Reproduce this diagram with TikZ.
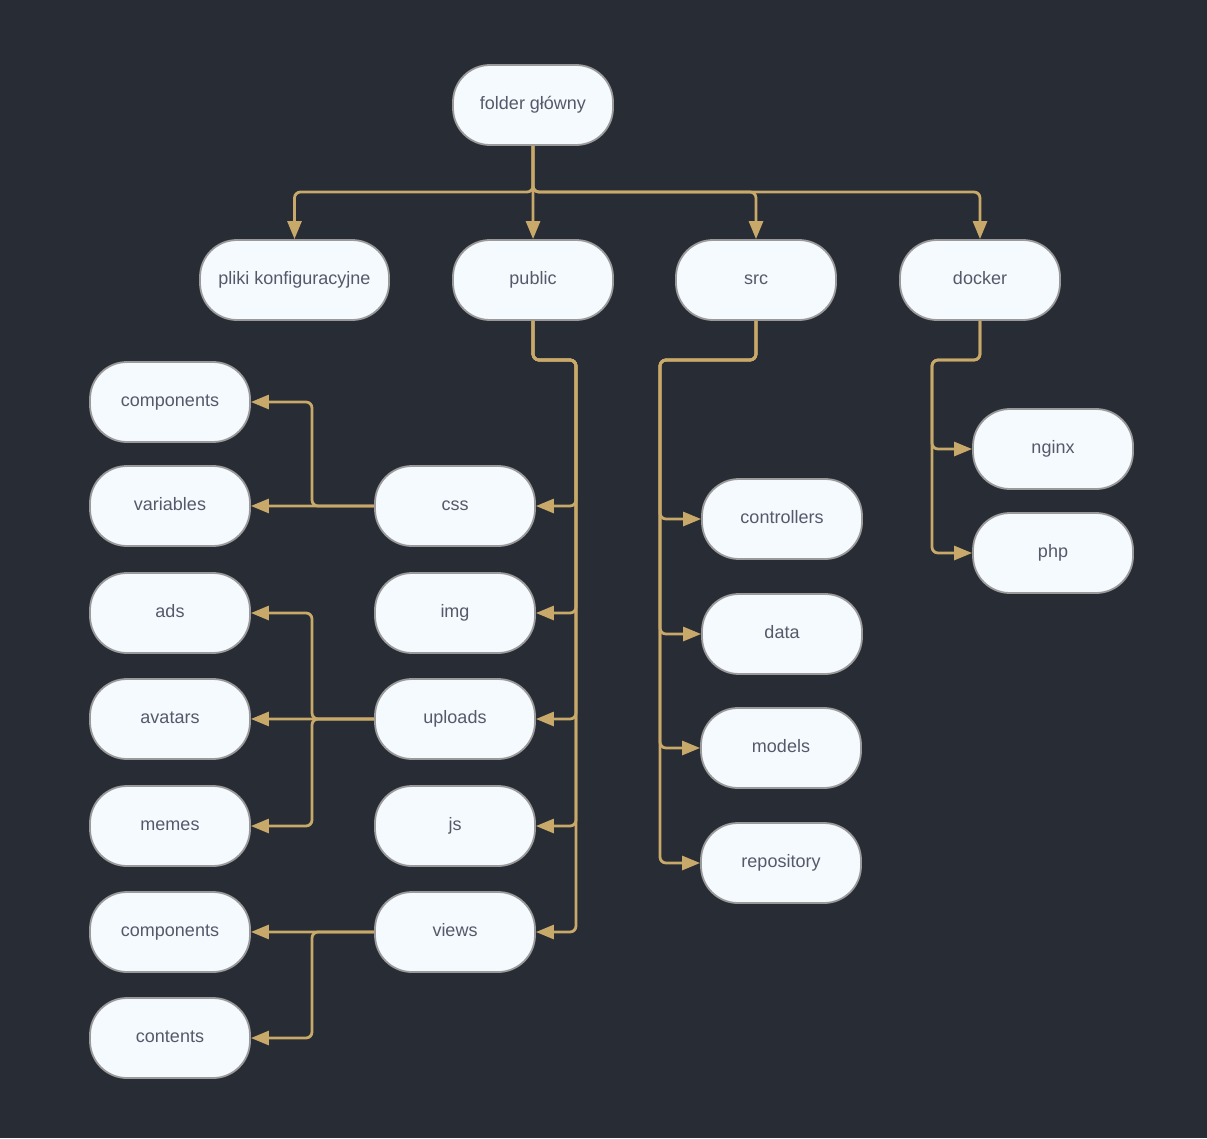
\documentclass[tikz,border=0pt]{standalone}
\usepackage{fontspec}
\setmainfont{Liberation Sans}
\usetikzlibrary{arrows.meta}
\definecolor{bg}{HTML}{282C35}
\definecolor{boxfill}{HTML}{F5FAFF}
\definecolor{boxline}{HTML}{9A9A9A}
\definecolor{txt}{HTML}{555A6A}
\definecolor{gold}{HTML}{C8A96A}
\begin{document}
\begin{tikzpicture}[x=1pt,y=-1pt,
  box/.style={draw=boxline, line width=1.8pt, fill=boxfill, rounded corners=37pt,
    minimum width=160pt, minimum height=80pt, inner sep=0pt,
    text height=13pt, text depth=4pt,
    font=\fontsize{18}{20}\selectfont, text=txt},
  conn/.style={draw=gold, line width=2.8pt, rounded corners=6pt,
    -{Triangle[length=18pt,width=14pt]}},
  straight/.style={draw=gold, line width=2.8pt,
    -{Triangle[length=18pt,width=14pt]}}]
\fill[bg] (0,0) rectangle (1207,1138);
\useasboundingbox (0,0) rectangle (1207,1138);
% nodes
\node[box] (root) at (533,105) {folder główny};
\node[box, minimum width=189pt] (pliki) at (294.5,280) {pliki konfiguracyjne};
\node[box] (public) at (533,280) {public};
\node[box] (src) at (756,280) {src};
\node[box] (docker) at (980,280) {docker};
\node[box] (compA) at (170,402) {components};
\node[box] (var) at (170,506) {variables};
\node[box] (ads) at (170,613) {ads};
\node[box] (avatars) at (170,719) {avatars};
\node[box] (memes) at (170,826) {memes};
\node[box] (compB) at (170,932) {components};
\node[box] (contents) at (170,1038) {contents};
\node[box] (css) at (455,506) {css};
\node[box] (img) at (455,613) {img};
\node[box] (uploads) at (455,719) {uploads};
\node[box] (js) at (455,826) {js};
\node[box] (views) at (455,932) {views};
\node[box] (controllers) at (782,519) {controllers};
\node[box] (data) at (782,634) {data};
\node[box] (models) at (781,748) {models};
\node[box] (repository) at (781,863) {repository};
\node[box] (nginx) at (1053,449) {nginx};
\node[box] (php) at (1053,553) {php};
% junctions
\coordinate (rj) at (533,192);
\coordinate (pj) at (576,360);
\coordinate (sj) at (660,360);
\coordinate (dj) at (932,360);
\coordinate (cj) at (312,506);
\coordinate (uj) at (312,719);
\coordinate (vj) at (312,932);
% root
\draw[conn] (root.south) -- (rj) -| (pliki.north);
\draw[straight] ([xshift=-0.05pt]root.south) -- ([xshift=0.05pt]public.north);
\draw[conn] (root.south) -- (rj) -| (src.north);
\draw[conn] (root.south) -- (rj) -| (docker.north);
% public
\foreach \c in {css,img,uploads,js,views}
  \draw[conn] (public.south) |- (pj) |- (\c.east);
% src
\foreach \c in {controllers,data,models,repository}
  \draw[conn] (src.south) |- (sj) |- (\c.west);
% docker
\foreach \c in {nginx,php}
  \draw[conn] (docker.south) |- (dj) |- (\c.west);
% css
\draw[conn] (css.west) -- (cj) |- (compA.east);
\draw[straight] ([yshift=-0.05pt]css.west) -- ([yshift=0.05pt]var.east);
% uploads
\draw[conn] (uploads.west) -- (uj) |- (ads.east);
\draw[straight] ([yshift=-0.05pt]uploads.west) -- ([yshift=0.05pt]avatars.east);
\draw[conn] (uploads.west) -- (uj) |- (memes.east);
% views
\draw[straight] ([yshift=-0.05pt]views.west) -- ([yshift=0.05pt]compB.east);
\draw[conn] (views.west) -- (vj) |- (contents.east);
\end{tikzpicture}
\end{document}
